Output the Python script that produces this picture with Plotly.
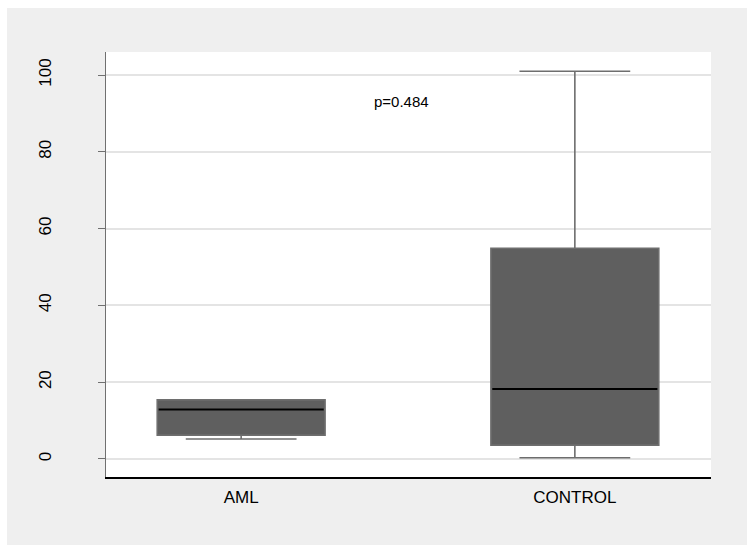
import plotly.graph_objects as go

# Box-plot summaries per group
groups = ["AML", "CONTROL"]
lower_whisker = [5.2, 0.3]
q1 = [6.2, 3.6]
median = [12.9, 18.2]
q3 = [15.4, 54.9]
upper_whisker = [15.4, 101.0]

p_label = "p=0.484"
y_ticks = [0, 20, 40, 60, 80, 100]

BOX_W = 0.503
FILL = "#5f5f5f"
EDGE = "#6e6e6e"

fig = go.Figure()

for i, g in enumerate(groups):
    fig.add_trace(go.Box(
        x=[i], q1=[q1[i]], median=[median[i]], q3=[q3[i]],
        lowerfence=[lower_whisker[i]], upperfence=[upper_whisker[i]],
        width=BOX_W, whiskerwidth=0.66,
        fillcolor=FILL, line=dict(color=EDGE, width=1.6),
        boxpoints=False, showlegend=False, hoverinfo="skip",
    ))
    # median drawn in black across the box
    fig.add_trace(go.Scatter(
        x=[i - BOX_W / 2 + 0.004, i + BOX_W / 2 - 0.004],
        y=[median[i], median[i]],
        mode="lines", line=dict(color="black", width=2),
        showlegend=False, hoverinfo="skip",
    ))

fig.add_annotation(
    x=0.48, y=93, text=p_label, showarrow=False,
    font=dict(family="Liberation Sans, Arial, sans-serif", size=15, color="black"),
)

# white border strips along the top and left edges of the page
fig.add_shape(type="rect", xref="paper", yref="paper",
              x0=-0.3, x1=1.1, y0=(477 - 8) / 425, y1=1.2,
              fillcolor="white", line=dict(width=0), layer="below")
fig.add_shape(type="rect", xref="paper", yref="paper",
              x0=-0.3, x1=(7 - 106) / 605, y0=-0.3, y1=1.2,
              fillcolor="white", line=dict(width=0), layer="below")

fig.update_layout(
    width=747, height=545,
    margin=dict(l=106, r=36, t=52, b=68),
    paper_bgcolor="#efefef",
    plot_bgcolor="white",
    font=dict(family="Liberation Sans, Arial, sans-serif", color="black"),
    xaxis=dict(
        range=[-0.405, 1.408],
        tickvals=list(range(len(groups))), ticktext=groups,
        showgrid=False, zeroline=False,
        showline=True, linecolor="black", linewidth=1.6,
        ticks="", tickfont=dict(size=17),
        ticklabelstandoff=4,
    ),
    yaxis=dict(
        range=[-4.7, 106],
        tickvals=y_ticks,
        showgrid=True, gridcolor="#e4e4e4", gridwidth=1.5,
        zeroline=False,
        showline=True, linecolor="#707070", linewidth=1.4,
        ticks="outside", ticklen=7, tickcolor="#707070", tickwidth=1.2,
        tickangle=-90, tickfont=dict(size=17),
        ticklabelstandoff=40,
    ),
)

fig.write_html("out.html")
